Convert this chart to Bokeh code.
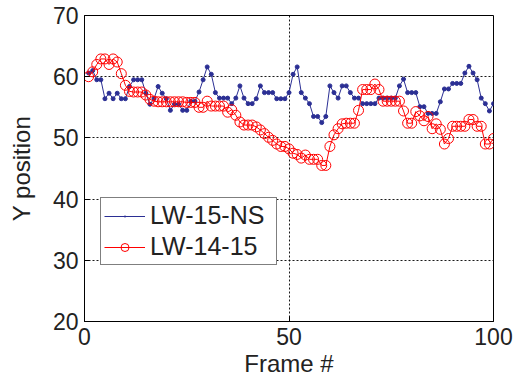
from bokeh.plotting import figure
from bokeh.models import Range1d, FixedTicker, Legend, LegendItem
from bokeh.embed import file_html
from bokeh.resources import INLINE

# Frame numbers and tracked Y positions for the two sequences
frames = list(range(1, 101))

lw_15_ns = [
    60.6, 61.0, 59.5, 59.5, 56.4, 57.3, 56.4, 57.3, 56.4, 56.4,
    58.4, 59.5, 59.5, 59.5, 57.3, 55.5, 56.4, 58.4, 57.3, 56.4,
    54.5, 55.5, 55.5, 54.5, 54.5, 56.0, 56.0, 57.5, 59.5, 61.6,
    60.4, 57.4, 56.5, 56.5, 56.5, 55.6, 56.5, 58.5, 56.5, 55.6,
    55.6, 56.4, 58.5, 57.4, 57.4, 57.4, 56.4, 56.4, 56.4, 57.4,
    60.4, 61.6, 57.4, 56.5, 55.6, 53.5, 53.5, 52.5, 53.5, 58.5,
    57.4, 56.5, 58.5, 58.5, 57.4, 56.5, 56.5, 55.6, 55.6, 55.6,
    55.6, 56.5, 56.5, 56.5, 56.5, 56.5, 58.5, 59.6, 57.4, 57.4,
    57.4, 55.1, 55.1, 54.0, 54.0, 54.0, 55.9, 58.0, 58.0, 58.9,
    58.9, 58.9, 60.6, 61.7, 60.6, 59.5, 56.5, 55.6, 54.4, 55.6,
]

lw_14_15 = [
    60.0, 60.8, 62.0, 62.9, 62.9, 62.0, 62.9, 62.4, 60.5, 58.6,
    57.6, 57.5, 57.5, 57.5, 57.0, 56.3, 56.0, 55.9, 55.9, 55.9,
    55.9, 55.9, 55.9, 55.9, 55.8, 55.8, 55.8, 55.0, 55.0, 56.0,
    55.2, 55.2, 55.2, 55.2, 54.2, 54.6, 53.7, 52.6, 52.1, 52.1,
    52.1, 51.8, 51.3, 50.7, 50.1, 49.6, 49.0, 48.6, 48.6, 48.2,
    47.5, 47.3, 46.7, 47.2, 46.5, 46.5, 46.5, 45.5, 45.5, 48.6,
    50.5, 51.5, 52.3, 52.4, 52.4, 52.4, 54.5, 57.9, 57.9, 57.9,
    58.8, 57.9, 56.0, 56.0, 56.0, 56.0, 56.0, 54.4, 52.4, 52.4,
    54.3, 53.6, 52.8, 53.5, 51.5, 52.3, 51.4, 49.0, 49.9, 51.9,
    51.9, 51.9, 51.9, 53.0, 53.0, 51.9, 51.9, 49.0, 49.0, 49.9,
]

x_ticks = [0, 50, 100]
y_ticks = [20, 30, 40, 50, 60, 70]

FONT = "Liberation Sans"
TEXT = "#222222"
BLUE = "#2b2f94"
RED = "#ff0000"

p = figure(
    width=518, height=381,
    output_backend="svg", toolbar_location=None,
    x_range=Range1d(0, 100), y_range=Range1d(20, 70),
    min_border_left=84, min_border_right=25,
    min_border_top=15, min_border_bottom=60,
)
p.title.visible = False
p.background_fill_color = "white"
p.border_fill_color = "white"
p.outline_line_color = "black"
p.outline_line_width = 1
p.outline_line_alpha = 1

for ax, ticks in ((p.xaxis[0], x_ticks), (p.yaxis[0], y_ticks)):
    ax.ticker = FixedTicker(ticks=ticks)
    ax.axis_line_color = "black"
    ax.major_tick_line_color = "black"
    ax.major_tick_in = 5
    ax.major_tick_out = 0
    ax.minor_tick_line_color = None
    ax.major_label_text_font = FONT
    ax.major_label_text_font_size = "23px"
    ax.major_label_text_color = TEXT
    ax.axis_label_text_font = FONT
    ax.axis_label_text_font_size = "24px"
    ax.axis_label_text_font_style = "normal"
    ax.axis_label_text_color = TEXT

p.xaxis.axis_label = "Frame #"
p.yaxis.axis_label = "Y position"
p.xaxis.major_label_standoff = 6
p.xaxis.axis_label_standoff = 2
p.yaxis.major_label_standoff = 6
p.yaxis.axis_label_standoff = 15

for g in (p.xgrid[0], p.ygrid[0]):
    g.grid_line_color = "black"
    g.grid_line_dash = "2 2"
    g.grid_line_width = 1
    g.grid_line_alpha = 0.9
p.xgrid.ticker = FixedTicker(ticks=x_ticks)
p.ygrid.ticker = FixedTicker(ticks=y_ticks)

bl = p.line(frames, lw_15_ns, line_color=BLUE, line_width=1)
bs = p.scatter(frames, lw_15_ns, marker="circle", size=4,
               fill_color=BLUE, line_color=BLUE)

rl = p.line(frames, lw_14_15, line_color=RED, line_width=1)
rs = p.scatter(frames, lw_14_15, marker="circle", size=10,
               fill_color=None, line_color=RED, line_width=1)

# hidden dot renderer that only supplies the small legend key of the blue series
b_key = p.scatter(frames, lw_15_ns, marker="dot", size=8,
                  line_color=BLUE, fill_color=BLUE, line_width=2,
                  visible=False)

legend = Legend(
    items=[
        LegendItem(label="LW-15-NS", renderers=[bl, b_key]),
        LegendItem(label="LW-14-15", renderers=[rl, rs]),
    ],
    location=(16, 56),
    border_line_color="black",
    border_line_width=1,
    background_fill_color="white",
    background_fill_alpha=1,
    label_text_font=FONT,
    label_text_font_size="25px",
    label_text_color=TEXT,
    label_height=28,
    label_width=123,
    glyph_width=41,
    glyph_height=20,
    label_standoff=5,
    padding=3,
    spacing=2,
    margin=0,
)
p.add_layout(legend)

open("out.html", "w").write(file_html(p, INLINE))
